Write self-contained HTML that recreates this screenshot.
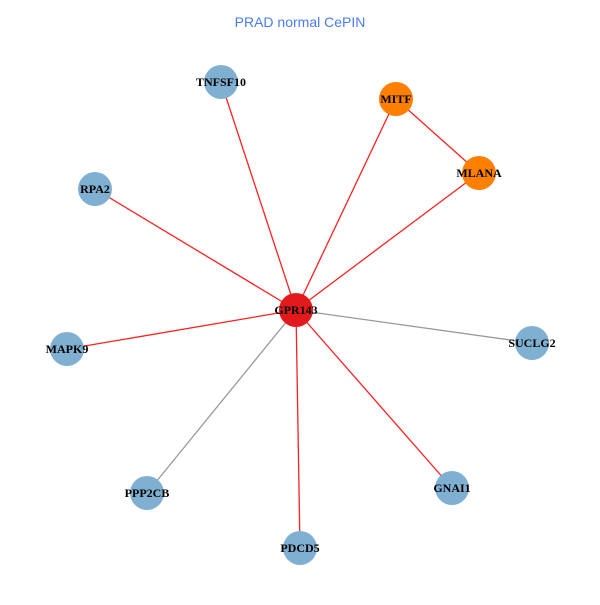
<!DOCTYPE html>
<html><head><style>body{margin:0;background:#fff}</style></head><body>
<svg width="600" height="600" xmlns="http://www.w3.org/2000/svg">
<rect width="600" height="600" fill="#fff"/>
<text x="300" y="27" text-anchor="middle" font-family="Liberation Sans, sans-serif" font-size="14" fill="#4a7cf0">PRAD normal CePIN</text>
<g stroke-width="1.3">
<line x1="296" y1="310" x2="221" y2="82" stroke="#ff2020"/>
<line x1="296" y1="310" x2="396" y2="99" stroke="#ff2020"/>
<line x1="296" y1="310" x2="479" y2="173" stroke="#ff2020"/>
<line x1="396" y1="99" x2="479" y2="173" stroke="#ff2020"/>
<line x1="296" y1="310" x2="95" y2="189" stroke="#ff2020"/>
<line x1="296" y1="310" x2="67" y2="349" stroke="#ff2020"/>
<line x1="296" y1="310" x2="452" y2="488" stroke="#ff2020"/>
<line x1="296" y1="310" x2="300" y2="548" stroke="#ff2020"/>
<line x1="296" y1="310" x2="532" y2="343" stroke="#999"/>
<line x1="296" y1="310" x2="147" y2="493" stroke="#999"/>
</g>
<g fill="#7fb0d2">
<circle cx="221" cy="82" r="17"/>
<circle cx="95" cy="189" r="17"/>
<circle cx="67" cy="349" r="17"/>
<circle cx="147" cy="493" r="17"/>
<circle cx="300" cy="548" r="17"/>
<circle cx="452" cy="488" r="17"/>
<circle cx="532" cy="343" r="17"/>
</g>
<circle cx="396" cy="99" r="17" fill="#ff7f00"/>
<circle cx="479" cy="173" r="17" fill="#ff7f00"/>
<circle cx="296" cy="310" r="17" fill="#e31a1c"/>
<g font-family="Liberation Serif, serif" font-size="12" font-weight="bold" text-anchor="middle" fill="#000">
<text x="221" y="86">TNFSF10</text>
<text x="396" y="103">MITF</text>
<text x="479" y="177">MLANA</text>
<text x="95" y="193">RPA2</text>
<text x="296" y="314">GPR143</text>
<text x="532" y="347">SUCLG2</text>
<text x="67" y="353">MAPK9</text>
<text x="147" y="497">PPP2CB</text>
<text x="452" y="492">GNAI1</text>
<text x="300" y="552">PDCD5</text>
</g>
</svg>
</body></html>
